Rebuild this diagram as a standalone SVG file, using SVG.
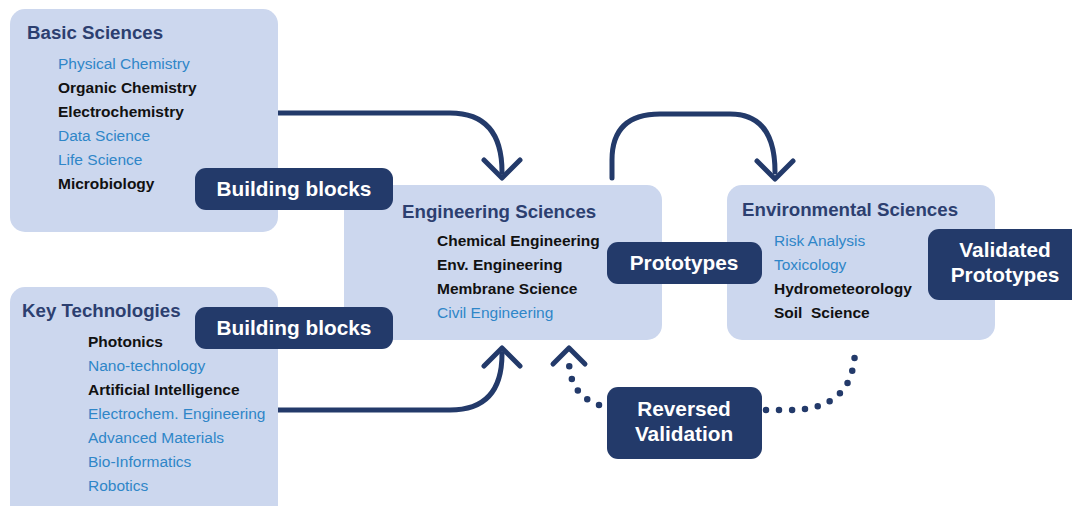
<svg xmlns="http://www.w3.org/2000/svg" width="1072" height="506" viewBox="0 0 1072 506">
<style>
.box{fill:#ccd7ee}
.lbl{fill:#233a6a}
.title{font-family:"Liberation Sans",Arial,sans-serif;font-weight:bold;font-size:18.7px;fill:#2c3f70}
.b{font-family:"Liberation Sans",Arial,sans-serif;font-size:15.5px;fill:#2f86c8}
.k{font-family:"Liberation Sans",Arial,sans-serif;font-weight:bold;font-size:15.5px;fill:#111}
.lt{font-family:"Liberation Sans",Arial,sans-serif;font-weight:bold;font-size:20.8px;fill:#fff;text-anchor:middle}
.conn{fill:none;stroke:#233a6a;stroke-width:5;stroke-linecap:round;stroke-linejoin:round}
.dot{fill:none;stroke:#233a6a;stroke-width:6.5;stroke-linecap:round;stroke-dasharray:0 13}
</style>
<rect width="1072" height="506" fill="#fff"/>
<g id="connectors">
<path class="conn" d="M278,113 H450 Q502,113 502,172"/>
<path class="conn" d="M484,160 L502,178 L520,160"/>
<path class="conn" d="M277,410 H450 Q502,410 502,354"/>
<path class="conn" d="M484,366 L502,348 L520,366"/>
<path class="conn" d="M612,178 V160 Q612,114 660,114 H730 Q775,114 775,172"/>
<path class="conn" d="M757,161 L775,179 L793,161"/>
<path class="dot" d="M766,410 H790 Q855,410 855,348"/>
<path class="dot" d="M599,405 Q570,395 569,362"/>
<path class="conn" d="M553,364 L569,348 L585,364"/>
</g>
<g id="basic-sciences">
<rect class="box" x="10" y="9" width="268" height="223" rx="15"/>
<text class="title" x="27" y="39">Basic Sciences</text>
<text class="b" x="58" y="69">Physical Chemistry</text>
<text class="k" x="58" y="93">Organic Chemistry</text>
<text class="k" x="58" y="117">Electrochemistry</text>
<text class="b" x="58" y="141">Data Science</text>
<text class="b" x="58" y="165">Life Science</text>
<text class="k" x="58" y="189">Microbiology</text>
</g>
<g id="key-technologies">
<rect class="box" x="10" y="287" width="268" height="240" rx="15"/>
<text class="title" x="22" y="317">Key Technologies</text>
<text class="k" x="88" y="347">Photonics</text>
<text class="b" x="88" y="371">Nano-technology</text>
<text class="k" x="88" y="395">Artificial Intelligence</text>
<text class="b" x="88" y="419">Electrochem. Engineering</text>
<text class="b" x="88" y="443">Advanced Materials</text>
<text class="b" x="88" y="467">Bio-Informatics</text>
<text class="b" x="88" y="491">Robotics</text>
</g>
<g id="engineering-sciences">
<rect class="box" x="344" y="185" width="318" height="155" rx="15"/>
<text class="title" x="402" y="218">Engineering Sciences</text>
<text class="k" x="437" y="246">Chemical Engineering</text>
<text class="k" x="437" y="270">Env. Engineering</text>
<text class="k" x="437" y="294">Membrane Science</text>
<text class="b" x="437" y="318">Civil Engineering</text>
</g>
<g id="environmental-sciences">
<rect class="box" x="727" y="185" width="268" height="155" rx="15"/>
<text class="title" x="742" y="216">Environmental Sciences</text>
<text class="b" x="774" y="246">Risk Analysis</text>
<text class="b" x="774" y="270">Toxicology</text>
<text class="k" x="774" y="294">Hydrometeorology</text>
<text class="k" x="774" y="318" xml:space="preserve">Soil  Science</text>
</g>
<g id="building-blocks-1">
<rect class="lbl" x="195" y="168" width="198" height="42" rx="11"/>
<text class="lt" x="294" y="196">Building blocks</text>
</g>
<g id="building-blocks-2">
<rect class="lbl" x="195" y="307" width="198" height="42" rx="11"/>
<text class="lt" x="294" y="335">Building blocks</text>
</g>
<g id="prototypes">
<rect class="lbl" x="607" y="242" width="155" height="42" rx="11"/>
<text class="lt" x="684" y="270">Prototypes</text>
</g>
<g id="validated-prototypes">
<rect class="lbl" x="928" y="229" width="160" height="71" rx="11"/>
<text class="lt" x="1005" y="257">Validated</text>
<text class="lt" x="1005" y="282">Prototypes</text>
</g>
<g id="reversed-validation">
<rect class="lbl" x="607" y="387" width="155" height="72" rx="11"/>
<text class="lt" x="684" y="416">Reversed</text>
<text class="lt" x="684" y="441">Validation</text>
</g>
</svg>
